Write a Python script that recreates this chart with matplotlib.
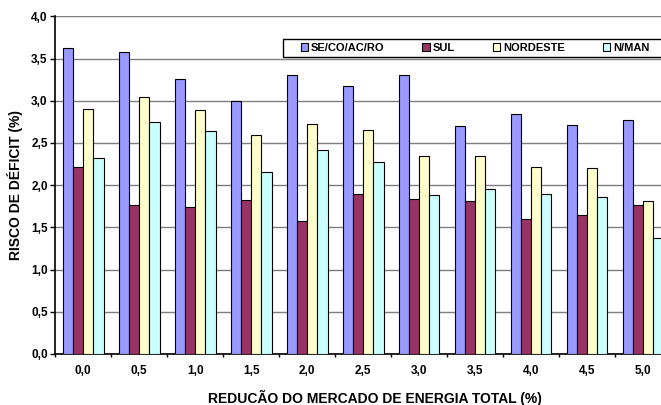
import matplotlib
matplotlib.use("Agg")
import matplotlib.pyplot as plt
from matplotlib.patches import Rectangle
import numpy as np

plt.rcParams["font.family"] = ["Liberation Sans", "DejaVu Sans"]
plt.rcParams["font.weight"] = "bold"

# reducao do mercado (%)
categories = ["0,0", "0,5", "1,0", "1,5", "2,0", "2,5", "3,0", "3,5", "4,0", "4,5", "5,0"]

se_co = [3.62, 3.58, 3.26, 3.00, 3.31, 3.17, 3.31, 2.70, 2.84, 2.71, 2.77]
sul = [2.22, 1.76, 1.74, 1.83, 1.57, 1.89, 1.84, 1.81, 1.60, 1.65, 1.76]
nordeste = [2.90, 3.04, 2.89, 2.59, 2.72, 2.65, 2.35, 2.35, 2.21, 2.20, 1.81]
n_man = [2.32, 2.75, 2.64, 2.15, 2.42, 2.27, 1.88, 1.95, 1.89, 1.86, 1.37]

series_names = ["SE/CO/AC/RO", "SUL", "NORDESTE", "N/MAN"]
series_colors = ["#9999FF", "#993366", "#FFFFCC", "#CCFFFF"]

W, H = 661, 405
fig = plt.figure(figsize=(W / 100, H / 100), dpi=100)
# plot area runs a bit past the right edge, like the original
ax = fig.add_axes([55.3 / W, 51 / H, 615.7 / W, 337.7 / H])

x = np.arange(len(categories))
w = 0.182
for j, (vals, name, col) in enumerate(zip([se_co, sul, nordeste, n_man], series_names, series_colors)):
    ax.bar(x + 0.5 + (j - 1.5) * w, vals, width=w, color=col, edgecolor="black",
           linewidth=0.8, label=name, zorder=3)

ax.set_xlim(0, len(categories))
ax.set_ylim(0, 4.0)
ax.set_yticks(np.arange(0, 4.01, 0.5))
ax.set_yticklabels([f"{v:.1f}".replace(".", ",") for v in np.arange(0, 4.01, 0.5)])
ax.yaxis.grid(True, color="#7f7f7f", linewidth=1.0, zorder=0)
ax.set_axisbelow(True)

ax.set_xticks(np.arange(0, len(categories) + 1))
ax.set_xticklabels([])
ax.set_xticks(x + 0.5, minor=True)
ax.set_xticklabels(categories, minor=True)
ax.tick_params(axis="x", which="major", length=2.5, width=1, direction="out")
ax.tick_params(axis="x", which="minor", length=0, pad=8, labelsize=8.5)
ax.tick_params(axis="y", length=3.5, width=1, pad=2, labelsize=8.5)

for s in ["top", "right"]:
    ax.spines[s].set_visible(False)
ax.spines["left"].set_linewidth(1.2)
ax.spines["bottom"].set_linewidth(1.2)

fig.text(375 / W, 1 - 398 / H, "REDUCÃO DO MERCADO DE ENERGIA TOTAL (%)",
         ha="center", va="center", fontsize=10, fontweight="bold")
fig.text(15 / W, 1 - 185 / H, "RISCO DE DÉFICIT (%)", rotation=90,
         ha="center", va="center", fontsize=10, fontweight="bold")

# legend box
box = Rectangle((282.7 / W, 1 - 56.7 / H), 400 / W, 17.7 / H,
                transform=fig.transFigure, facecolor="white",
                edgecolor="black", linewidth=1.0, zorder=5, clip_on=False)
ax.add_patch(box)
leg = ax.legend(loc="center left", bbox_to_anchor=(300.5 / W, 1 - 48 / H),
                bbox_transform=fig.transFigure, ncol=4, frameon=False,
                fontsize=8, handlelength=0.65, handleheight=0.65,
                handletextpad=0.3, columnspacing=3.4, borderpad=0, borderaxespad=0)
leg.set_zorder(6)

fig.savefig("out.png", dpi=100)
